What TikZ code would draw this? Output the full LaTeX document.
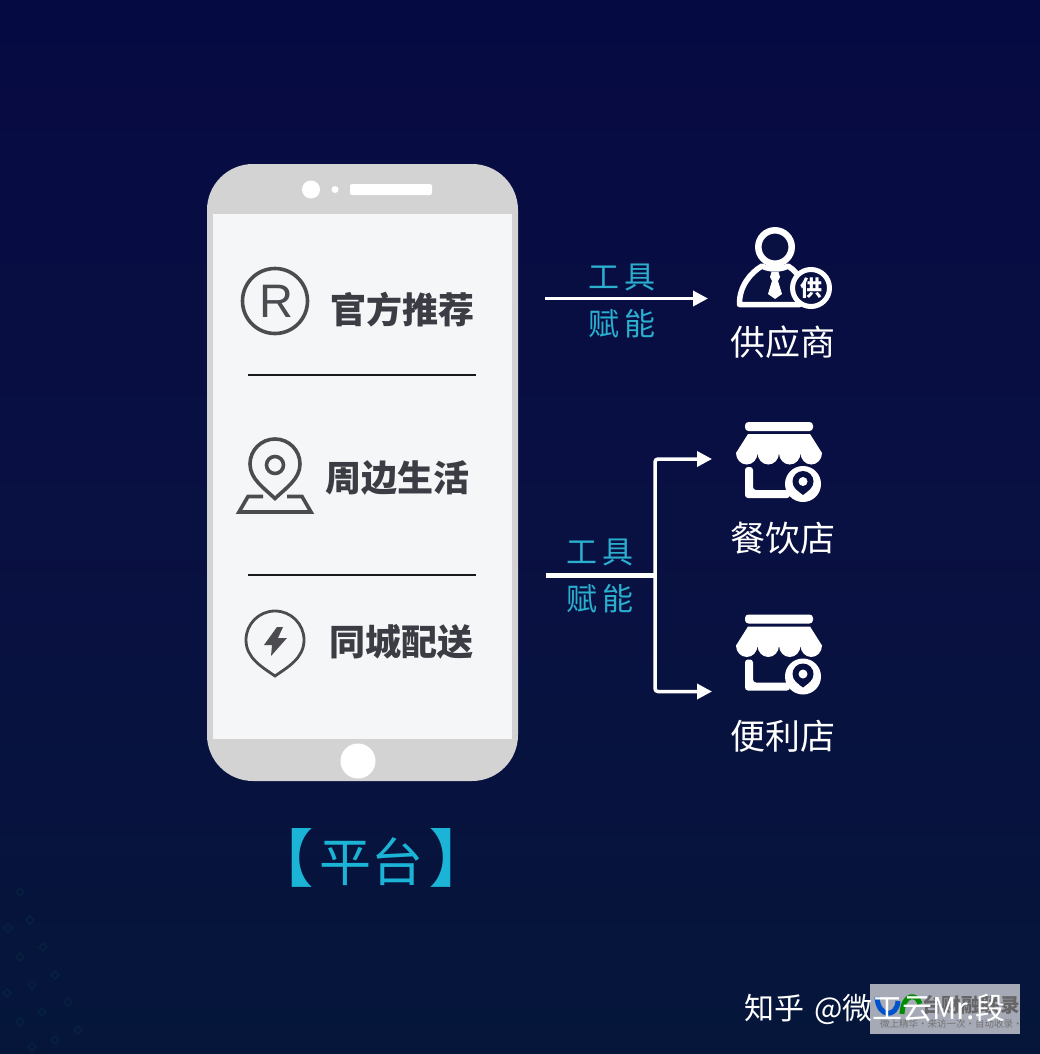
\documentclass[tikz,border=0pt]{standalone}
\usepackage{fontspec}
\setmainfont{Liberation Sans}
\newfontfamily\cjk{Noto Sans CJK SC}
\usetikzlibrary{arrows.meta}
\definecolor{bgtop}{HTML}{060A42}
\definecolor{bgmid}{HTML}{091042}
\definecolor{bgbot}{HTML}{05163A}
\definecolor{phonegray}{HTML}{D3D3D4}
\definecolor{screenc}{HTML}{F5F6F8}
\definecolor{iconc}{HTML}{4C4C50}
\definecolor{labelc}{HTML}{3C3C44}
\definecolor{cyanc}{HTML}{2AAFCF}
\definecolor{titlec}{HTML}{1CB4D6}
\definecolor{wmbox}{HTML}{A6AAB6}
\definecolor{dotc}{HTML}{07203F}
\tikzset{
  x=1pt,y=-1pt,
  menutext/.style={font=\cjk\fontsize{36}{36}\selectfont\bfseries,text=labelc,inner sep=0pt},
  tooltext/.style={font=\cjk\fontsize{31}{31}\selectfont,text=cyanc,inner sep=0pt},
  roletext/.style={font=\cjk\fontsize{35}{35}\selectfont,text=white,inner sep=0pt},
  divider/.style={draw=black!90,line width=1.6pt},
  flow/.style={draw=white,line width=3.5pt,-{Triangle[length=15pt,width=15pt]}},
  iconline/.style={draw=iconc,line width=3.6pt},
}
\newcommand{\storeicon}[1]{%
  \begin{scope}[yshift=#1]
    \fill[white,rounded corners=3.5pt] (745,422) rectangle (813,431);
    \fill[white] (748,434) -- (810,434) -- (822,453)
      arc[start angle=0,end angle=180,x radius=10.75,y radius=11.5]
      arc[start angle=0,end angle=180,x radius=10.75,y radius=11.5]
      arc[start angle=0,end angle=180,x radius=10.75,y radius=11.5]
      arc[start angle=0,end angle=180,x radius=10.75,y radius=11.5]
      -- cycle;
    \fill[white,rounded corners=3pt] (745,467) -- (753,467) -- (753,490) -- (790,490) -- (790,498) -- (745,498) -- cycle;
    \fill[white] (803,484) circle[radius=18];
    \fill[bgmid] (803,495) .. controls (798,491) and (792.5,488) .. (792.5,481.5)
      arc[start angle=180,end angle=0,radius=10.5,y radius=-10.5]
      .. controls (813.5,488) and (808,491) .. (803,495) -- cycle;
    \fill[white] (803,481.5) circle[radius=4.5];
  \end{scope}}
\begin{document}
\begin{tikzpicture}
\useasboundingbox (0,0) rectangle (1040,1054);
% background
\fill[top color=bgtop,bottom color=bgmid] (0,0) rectangle (1040,527);
\fill[top color=bgmid,bottom color=bgbot] (0,527) rectangle (1040,1054);
\foreach \px/\py in {8/928,30/920,20/892,20/957,43/947,7/993,32/985,55/975,20/1022,42/1012,68/1002,55/1040,78/1030,32/1047}{
  \draw[dotc,line width=2pt] (\px,\py-4) -- (\px+4,\py) -- (\px,\py+4) -- (\px-4,\py) -- cycle;
}

% phone
\fill[phonegray,rounded corners=46pt] (207,164) rectangle (518,781);
\fill[screenc] (213,214) rectangle (512,739);
\fill[white] (311,189.5) circle[radius=9];
\fill[white] (335,189.5) circle[radius=3.5];
\fill[white,rounded corners=2pt] (350,184) rectangle (432,195);
\fill[white] (358,761) circle[radius=17.5];

% menu row 1
\draw[iconline] (275,301) circle[radius=32.5];
\node[inner sep=0pt,font=\fontsize{47}{47}\selectfont,text=iconc] (regmark) at (276,301) {R};
\node[menutext] (menuA) at (402,310) {官方推荐};
\coordinate (divAl) at (248,375); \coordinate (divAr) at (476,375);
\draw[divider] (divAl) -- (divAr);

% menu row 2
\draw[iconline,fill=none] (275,498.5) .. controls (264,488) and (250,479) .. (250,464)
  arc[start angle=180,end angle=0,x radius=25,y radius=-25]
  .. controls (300,479) and (286,488) .. (275,498.5) -- cycle;
\draw[iconline] (275,465) circle[radius=8.5];
\draw[iconline,line join=miter] (263,496.5) -- (248,496.5) -- (239,512) -- (311,512) -- (302,496.5) -- (287,496.5);
\node[menutext] (menuB) at (397,478) {周边生活};
\coordinate (divBl) at (248,575); \coordinate (divBr) at (476,575);
\draw[divider] (divBl) -- (divBr);

% menu row 3
\draw[draw=iconc,line width=2.8pt] (275,676) .. controls (262,667) and (246,658) .. (246,640)
  arc[start angle=180,end angle=0,x radius=29,y radius=-29]
  .. controls (304,658) and (288,667) .. (275,676) -- cycle;
\fill[iconc] (277,627) -- (264,645) -- (272,645) -- (271,656) -- (287,638) -- (278,638) -- (283,627) -- cycle;
\node[menutext] (menuC) at (401,642) {同城配送};

% title
\node[inner sep=0pt,font=\cjk\fontsize{52}{52}\selectfont,text=titlec] (title) at (371,858) {{\fontsize{62}{62}\selectfont\bfseries 【}\hspace{6pt}平台\hspace{6pt}{\fontsize{62}{62}\selectfont\bfseries 】}};

% flows
\node[tooltext] (toolA) at (622,277) {工\hspace{5pt}具};
\node[tooltext] (empA) at (622,324) {赋\hspace{5pt}能};
\node[tooltext] (toolB) at (600,552) {工\hspace{5pt}具};
\node[tooltext] (empB) at (600,599) {赋\hspace{5pt}能};

% supplier icon
\draw[white,line width=5.5pt,line join=round,fill=bgmid] (762,266)
  .. controls (750,273) and (739,287) .. (739.5,304.5)
  -- (800,304.5)
  .. controls (808,290) and (800,273) .. (788,266)
  .. controls (781,270) and (769,270) .. (762,266) -- cycle;
\draw[white,line width=6.5pt,fill=bgmid] (775,247) circle[radius=16.7];
\fill[white] (771.5,272) -- (778.5,272) -- (780,277) -- (778,281) -- (782,294) -- (775,299) -- (768,294) -- (772,281) -- (770,277) -- cycle;
\draw[white,line width=5pt,fill=bgmid] (811,288) circle[radius=18.5];
\node[inner sep=0pt,font=\cjk\fontsize{22}{22}\selectfont\bfseries,text=white] (badge) at (811,288) {供};
\node[roletext] (supplier) at (783,342) {供应商};

% store icons
\storeicon{0pt}
\node[roletext] (restaurant) at (783,538) {餐饮店};
\storeicon{-192.5pt}
\node[roletext] (conv) at (783,736) {便利店};

% connectors
\coordinate (srcA) at (545,298.5);
\coordinate (dstA) at (708,298.5);
\draw[flow] (srcA) -- (dstA);
\coordinate (srcB) at (546,575);
\coordinate (junc) at (655,575);
\coordinate (dstB) at (712,459);
\coordinate (dstC) at (712,691.5);
\draw[white,line width=5pt] (srcB) -- (junc);
\draw[flow,rounded corners=3pt] (junc) |- (dstB);
\draw[flow,rounded corners=3pt] (junc) |- (dstC);

% watermark
\fill[wmbox] (870,984) rectangle (1020,1034);
\draw[line width=5pt,draw=blue!60!cyan!80!black] (877,997) .. controls (878,1018) and (897,1018) .. (898,1001);
\draw[line width=5pt,draw=green!55!black] (902,1014) .. controls (903,993) and (917,993) .. (920,1004);
\node[inner sep=0pt,font=\cjk\fontsize{19.5}{20}\selectfont\bfseries,text=black!60,anchor=west] (wmname) at (922,1005) {台财融联录};
\node[inner sep=0pt,font=\cjk\fontsize{9.5}{10}\selectfont,text=black!55,anchor=west] (wmsub) at (880,1024) {微上精华·来访一次·自动收录·};
\node[inner sep=0pt,font=\cjk\fontsize{30}{30}\selectfont,text=white,anchor=west] (credit) at (744,1009) {知乎\hspace{10pt}@微工云Mr.段};
\end{tikzpicture}
\end{document}
